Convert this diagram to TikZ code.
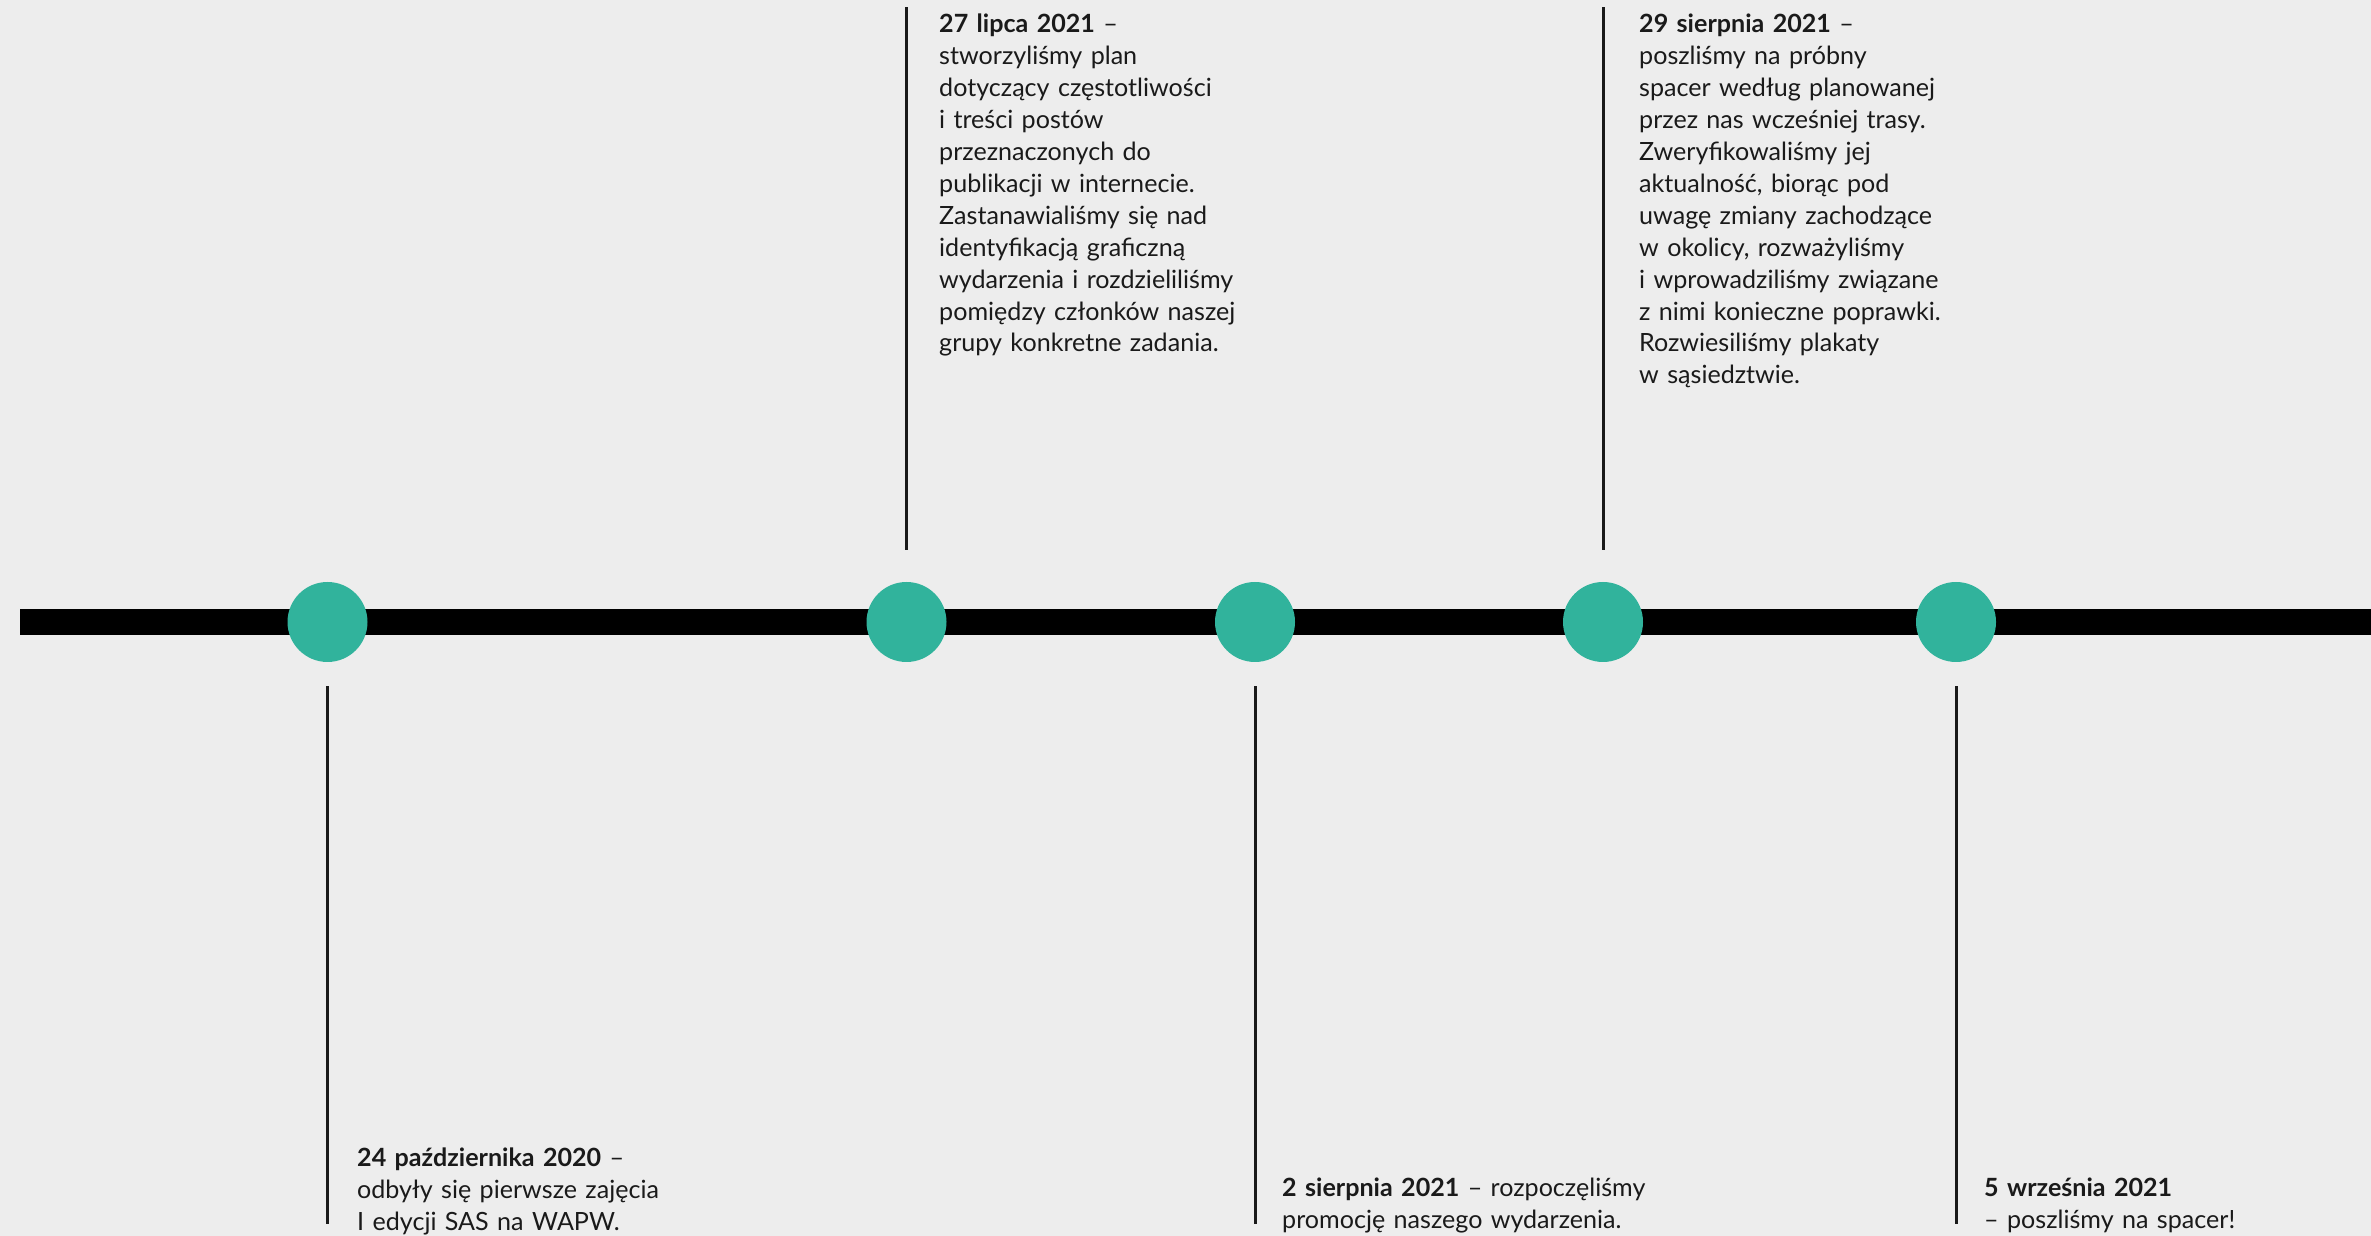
\documentclass[tikz,border=0pt]{standalone}
\usepackage{fontspec}
\setmainfont{Lato}
\usetikzlibrary{positioning}
\definecolor{tlbg}{HTML}{EDEDED}
\definecolor{tlteal}{HTML}{31B39C}
\definecolor{tlink}{HTML}{1A1A1A}

\begin{document}
\begin{tikzpicture}[x=1pt,y=1pt,
    event/.style={circle,fill=tlteal,minimum size=80pt,inner sep=0pt},
    tick/.style={line width=3pt,tlink},
    desc/.style={anchor=base west,inner sep=0pt,text width=420pt,align=left,
      text=tlink,font=\fontsize{25.1}{31.9}\selectfont}]
      % background and frame
      \fill[tlbg] (0,0) rectangle (2371,1236);
      \useasboundingbox (0,0) rectangle (2371,1236);

      % the time axis
      \coordinate (ax0) at (20,614);
      \coordinate (ax1) at (2380,614);
      \draw[line width=26pt] (ax0) -- (ax1);

      \node[event] (e1) at (327.5,614) {};
      \node[event] (e2) at (906.5,614) {};
      \node[event] (e3) at (1255,614) {};
      \node[event] (e4) at (1603,614) {};
      \node[event] (e5) at (1956,614) {};

      % free ends of the ticks
      \coordinate (e1 end) at (327.5,12);
      \coordinate (e2 end) at (906.5,1229);
      \coordinate (e3 end) at (1255,12);
      \coordinate (e4 end) at (1603,1229);
      \coordinate (e5 end) at (1956,12);

      \draw[tick] ([yshift=-24pt]e1.south) -- (e1 end);
      \draw[tick] ([yshift=32pt]e2.north) -- (e2 end);
      \draw[tick] ([yshift=-24pt]e3.south) -- (e3 end);
      \draw[tick] ([yshift=32pt]e4.north) -- (e4 end);
      \draw[tick] ([yshift=-24pt]e5.south) -- (e5 end);

      % descriptions
      \node[desc] (d1) at (357,69.3) {\textbf{24 października 2020} –\\
        odbyły się pierwsze zajęcia\\
        I edycji SAS na WAPW.};
      \node[desc] (d2) at (939,1203) {\textbf{27 lipca 2021} –\\
        stworzyliśmy plan\\
        dotyczący częstotliwości\\
        i treści postów\\
        przeznaczonych do\\
        publikacji w internecie.\\
        Zastanawialiśmy się nad\\
        identyfikacją graficzną\\
        wydarzenia i rozdzieliliśmy\\
        pomiędzy członków naszej\\
        grupy konkretne zadania.};
      \node[desc] (d3) at (1282,39.3) {\textbf{2 sierpnia 2021} – rozpoczęliśmy\\
        promocję naszego wydarzenia.};
      \node[desc] (d4) at (1639,1203) {\textbf{29 sierpnia 2021} –\\
        poszliśmy na próbny\\
        spacer według planowanej\\
        przez nas wcześniej trasy.\\
        Zweryfikowaliśmy jej\\
        aktualność, biorąc pod\\
        uwagę zmiany zachodzące\\
        w okolicy, rozważyliśmy\\
        i wprowadziliśmy związane\\
        z nimi konieczne poprawki.\\
        Rozwiesiliśmy plakaty\\
        w sąsiedztwie.};
      \node[desc] (d5) at (1984,39.3) {\textbf{5 września 2021}\\
        – poszliśmy na spacer!};
\end{tikzpicture}
\end{document}
